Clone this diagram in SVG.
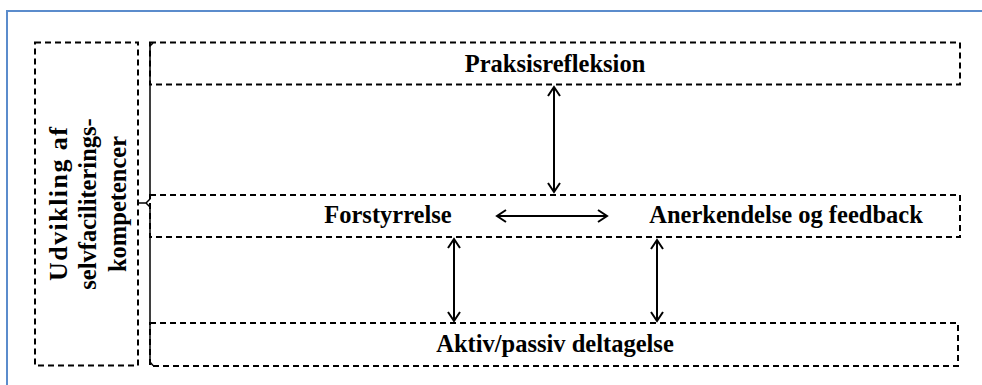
<svg xmlns="http://www.w3.org/2000/svg" width="982" height="385" viewBox="0 0 982 385">
<style>
.box{fill:none;stroke:#000;stroke-width:2;stroke-dasharray:6 4}
.t{font-family:"Liberation Serif","Times New Roman",serif;font-weight:bold;font-size:24.5px;fill:#000}
.arr{stroke:#000;stroke-width:2;fill:none;marker-start:url(#ah);marker-end:url(#ah)}
</style>
<defs>
<marker id="ah" viewBox="-12 -8 14 16" markerWidth="14" markerHeight="16" refX="0" refY="0" orient="auto-start-reverse" markerUnits="userSpaceOnUse">
<path d="M-9,-6 L0,0 L-9,6" fill="none" stroke="#000" stroke-width="2"/>
</marker>
</defs>
<rect x="0" y="0" width="982" height="385" fill="#fff"/>
<path d="M7,385 L7,11 L982,11" fill="none" stroke="#5b8ccc" stroke-width="2"/>
<g id="side">
<rect class="box" x="35" y="42.5" width="103" height="323"/>
<g transform="translate(0,204) rotate(-90)">
<text class="t" x="-77" y="67" textLength="154" lengthAdjust="spacing" style="font-size:26px">Udvikling af</text>
<text class="t" x="0" y="96" text-anchor="middle">selvfaciliterings-</text>
<text class="t" x="0" y="126" text-anchor="middle">kompetencer</text>
</g>
</g>
<g id="brace">
<path d="M153,43 L150,46 L150,199 L146,203 L139,203 M146,203 L150,207 L150,362 L153,365.5" fill="none" stroke="#000" stroke-width="1.5"/>
</g>
<g id="praksis">
<rect class="box" x="150" y="42.5" width="810" height="42"/>
<text class="t" x="555" y="72" text-anchor="middle">Praksisrefleksion</text>
</g>
<g id="midt">
<rect class="box" x="150" y="195" width="810" height="42"/>
<text class="t" x="388" y="223" text-anchor="middle">Forstyrrelse</text>
<text class="t" x="786" y="223" text-anchor="middle">Anerkendelse og feedback</text>
</g>
<g id="aktiv">
<rect class="box" x="150" y="323" width="808" height="43"/>
<text class="t" x="555" y="352" text-anchor="middle">Aktiv/passiv deltagelse</text>
</g>
<g id="connectors">
<line class="arr" x1="554" y1="87" x2="554" y2="192"/>
<line class="arr" x1="497" y1="216" x2="607" y2="216"/>
<line class="arr" x1="454" y1="239" x2="454" y2="321"/>
<line class="arr" x1="657" y1="240" x2="657" y2="321"/>
</g>
</svg>
